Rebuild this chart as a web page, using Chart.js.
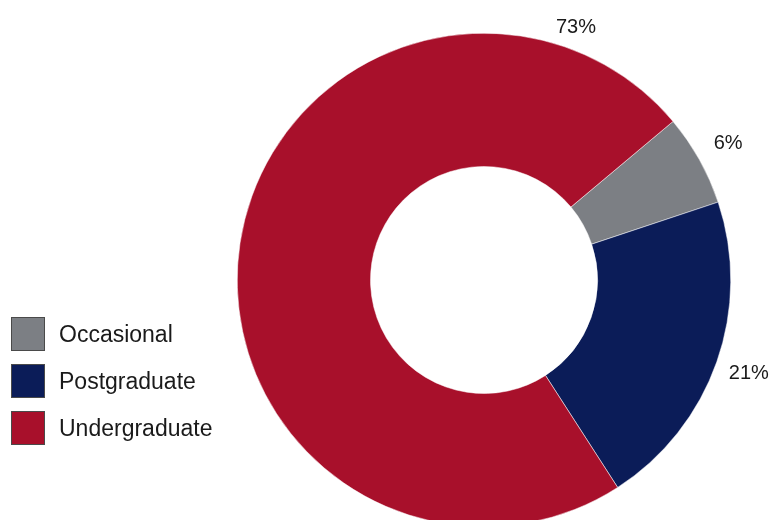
<!DOCTYPE html>
<html>
<head>
<meta charset="utf-8">
<script src="https://cdn.jsdelivr.net/npm/chart.js@4"></script>
<style>
  html, body { margin: 0; padding: 0; background: #fff; overflow: hidden; }
  body { width: 770px; height: 520px; position: relative; font-family: "Liberation Sans", Arial, sans-serif; }
  #wrap { position: absolute; left: 0; top: 0; width: 770px; height: 560px; }
  #legend { position: absolute; left: 11px; top: 317px; }
  .item { display: flex; align-items: center; height: 34px; margin-bottom: 13px; }
  .box { width: 32px; height: 32px; border: 1px solid #4a4a4a; margin-right: 14px; }
  .item span { font-size: 23px; color: #1a1a1a; }
</style>
</head>
<body>
<div id="wrap"><canvas id="DonutChart"></canvas></div>
<div id="legend"></div>
<script>
// data
const categories = ['Occasional', 'Postgraduate', 'Undergraduate'];
const shares = [6, 21, 73];
const sliceColors = ['#7c7f84', '#0b1c58', '#a8102b'];

// legend (html, built from the arrays)
const legendEl = document.getElementById('legend');
categories.forEach((name, i) => {
  const row = document.createElement('div');
  row.className = 'item';
  row.innerHTML = '<div class="box" style="background:' + sliceColors[i] + '"></div><span>' + name + '</span>';
  legendEl.appendChild(row);
});

// percent labels outside the ring
const outsideLabels = {
  id: 'outsideLabels',
  afterDatasetsDraw(chart, args, opts) {
    const ctx = chart.ctx;
    const meta = chart.getDatasetMeta(0);
    ctx.save();
    ctx.font = '20px "Liberation Sans", Arial, sans-serif';
    ctx.fillStyle = '#1a1a1a';
    ctx.textAlign = 'center';
    ctx.textBaseline = 'middle';
    meta.data.forEach((arc, i) => {
      const p = arc.getProps(['x', 'y', 'startAngle', 'endAngle', 'outerRadius'], true);
      let a = (p.startAngle + p.endAngle) / 2;
      if (opts.angles[i] != null) a = (opts.angles[i] - 90) * Math.PI / 180;
      const r = p.outerRadius + opts.gaps[i];
      ctx.fillText(shares[i] + '%', p.x + Math.cos(a) * r, p.y + Math.sin(a) * r);
    });
    ctx.restore();
  }
};

new Chart(document.getElementById('DonutChart'), {
  type: 'doughnut',
  data: {
    labels: categories,
    datasets: [{
      data: shares,
      backgroundColor: sliceColors,
      borderColor: '#ffffff',
      borderWidth: 0.5
    }]
  },
  options: {
    responsive: true,
    maintainAspectRatio: false,
    animation: false,
    rotation: 50,
    cutout: '46%',
    layout: { padding: { left: 237, right: 39, top: 33, bottom: 33 } },
    plugins: {
      legend: { display: false },
      tooltip: { enabled: false },
      outsideLabels: { angles: [null, null, 20], gaps: [33, 34, 22] }
    }
  },
  plugins: [outsideLabels]
});
</script>
</body>
</html>
